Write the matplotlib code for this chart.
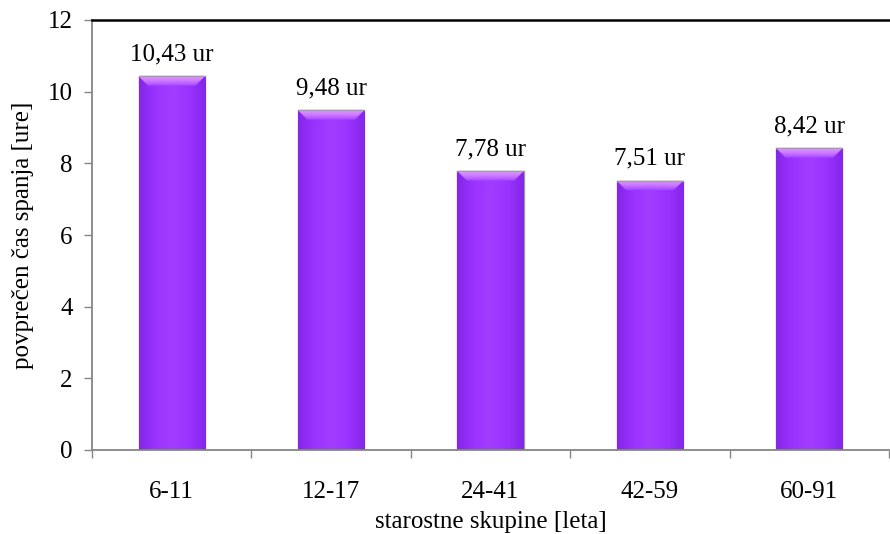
import numpy as np
import matplotlib
matplotlib.use("Agg")
import matplotlib.pyplot as plt
from matplotlib.patches import Polygon
from matplotlib.colors import LinearSegmentedColormap

groups = ["6-11", "12-17", "24-41", "42-59", "60-91"]
hours = [10.43, 9.48, 7.78, 7.51, 8.42]
value_labels = ["10,43 ur", "9,48 ur", "7,78 ur", "7,51 ur", "8,42 ur"]
y_ticks = [0, 2, 4, 6, 8, 10, 12]

plt.rcParams["font.family"] = ["Liberation Serif", "DejaVu Serif"]
plt.rcParams["font.size"] = 18

fig = plt.figure(figsize=(8.9, 5.34), dpi=100)
ax = fig.add_axes([92 / 890, 84 / 534, 797 / 890, 430 / 534])

x = np.arange(len(groups))
bar_w = 0.415
bars = ax.bar(x, hours, width=bar_w, color="#9b33ff", edgecolor="#9a9a9a",
              linewidth=1.0, zorder=2)

# horizontal shading across each bar and a lighter bevel on top
shade = LinearSegmentedColormap.from_list(
    "shade", ["#8526e8", "#9a33ff", "#a23dff", "#9a33ff", "#8526e8"])
bevel_cmap = LinearSegmentedColormap.from_list(
    "bevel", ["#a646ff", "#cc78ff", "#e09aff"])
hgrad = np.linspace(0, 1, 256).reshape(1, -1)
vgrad = np.linspace(0, 1, 64).reshape(-1, 1)[::-1]
for rect in bars:
    x0, w, h = rect.get_x(), rect.get_width(), rect.get_height()
    im = ax.imshow(hgrad, cmap=shade, aspect="auto", extent=[x0, x0 + w, 0, h],
                   zorder=2.5, interpolation="bilinear")
    im.set_clip_path(rect)
    cap = 0.26
    inset = w * 0.14
    bevel = Polygon([[x0, h], [x0 + w, h], [x0 + w - inset, h - cap],
                     [x0 + inset, h - cap]], closed=True,
                    facecolor="none", edgecolor="none", zorder=3)
    ax.add_patch(bevel)
    bim = ax.imshow(vgrad, cmap=bevel_cmap, aspect="auto",
                    extent=[x0, x0 + w, h - cap, h], zorder=3,
                    interpolation="bilinear")
    bim.set_clip_path(bevel)
    ax.plot([x0, x0 + w], [h, h], color="#a0a0a0", linewidth=1.0, zorder=3.5)

for xi, v, lab in zip(x, hours, value_labels):
    ax.annotate(lab, (xi, v), xytext=(0, 8), textcoords="offset points",
                ha="center", va="bottom", fontsize=18)

ax.set_xlim(-0.5, len(groups) - 0.5)
ax.set_ylim(0, 12)
ax.set_yticks(y_ticks)
ax.set_xticks(x)
ax.set_xticklabels(groups)
ax.set_xticks(np.arange(len(groups) + 1) - 0.5, minor=True)
ax.tick_params(axis="x", which="major", length=0, pad=22)
ax.tick_params(axis="x", which="minor", length=6, color="#868686", width=1)
ax.tick_params(axis="y", length=6, color="#868686", width=1, pad=8)

for s in ("left", "bottom"):
    ax.spines[s].set_color("#868686")
    ax.spines[s].set_linewidth(1.3)
ax.spines["right"].set_visible(False)
ax.spines["top"].set_color("black")
ax.spines["top"].set_linewidth(1.8)

ax.set_xlabel("starostne skupine [leta]", fontsize=18, labelpad=6)
ax.set_ylabel("povprečen čas spanja [ure]", fontsize=18, labelpad=10)

fig.savefig("out.png", dpi=100)
